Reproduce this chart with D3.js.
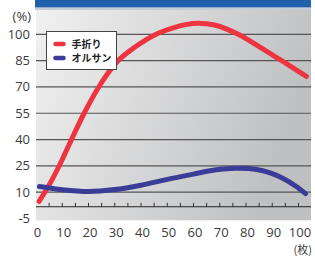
<!DOCTYPE html>
<html>
<head>
<meta charset="utf-8">
<script src="https://cdn.jsdelivr.net/npm/d3@7"></script>
<style>
  body { margin: 0; background: #fff; }
  svg { display: block; }
  .tickLabel { font-family: "Open Sans", "Noto Sans", sans-serif; font-size: 13px; fill: #3a3a3a; }
  .legendText { font-family: "Noto Sans CJK JP", sans-serif; font-size: 10px; font-weight: bold; fill: #222; }
</style>
</head>
<body>
<svg id="chart" width="315" height="256"></svg>
<script>
// values (x = 枚, y = %)
var yTicks = [100, 85, 70, 55, 40, 25, 10, -5];
var xTicks = [0, 10, 20, 30, 40, 50, 60, 70, 80, 90, 100];
var minorTicks = d3.range(5, 101, 5);
var seriesNames = ["手折り", "オルサン"];
var seriesColors = ["#ee3441", "#3b3b98"];

var oriX = [1.2, 4, 9, 13.5, 18, 23.5, 31, 38, 45, 52, 57, 62, 68, 77, 85, 93, 103];
var oriY = [4.8, 11.5, 25.5, 40, 54, 69, 84.5, 93, 99.5, 103.5, 105.5, 106.3, 105.3, 100, 93, 85.5, 76];

var orsX = [1.3, 10, 20, 30, 40, 50, 60, 68, 76, 81, 86, 90, 94, 99, 102.7];
var orsY = [13.2, 11.4, 10.4, 11.5, 14, 17.3, 20.3, 22.6, 23.7, 23.5, 22.4, 20.6, 18, 13.4, 9.2];

var svg = d3.select("#chart");

var x = d3.scaleLinear().domain([0, 100]).range([36, 298.5]);
var y = d3.scaleLinear().domain([10, 100]).range([192.2, 34.3]);

var plotLeft = 36, plotRight = 311;

// background gradient
var defs = svg.append("defs");
var grad = defs.append("linearGradient").attr("id", "bg")
    .attr("x1", "0").attr("y1", "0").attr("x2", "1").attr("y2", "0.3");
grad.append("stop").attr("offset", "0").attr("stop-color", "#f1f1f1");
grad.append("stop").attr("offset", "1").attr("stop-color", "#bfc0c2");

svg.append("rect")
    .attr("x", plotLeft).attr("y", 7)
    .attr("width", plotRight - plotLeft).attr("height", y(-6) - 7)
    .style("fill", "url(#bg)");

// top band
svg.append("rect")
    .attr("x", 35).attr("y", 7).attr("width", plotRight - 35).attr("height", 3)
    .style("fill", "#c3ccd8");
svg.append("rect")
    .attr("x", 35).attr("y", 0).attr("width", plotRight - 35).attr("height", 7.3)
    .style("fill", "#2161ab");

// grid lines
svg.selectAll(".grid")
    .data(yTicks.filter(function (d) { return d > 0; }))
    .enter().append("line")
    .attr("class", "grid")
    .attr("x1", plotLeft).attr("x2", plotRight)
    .attr("y1", function (d) { return y(d); })
    .attr("y2", function (d) { return y(d); })
    .style("stroke", "#555")
    .style("stroke-width", 1.2);

// baseline with small ticks
var baseY = y(1.7);
svg.append("line")
    .attr("x1", plotLeft).attr("x2", plotRight)
    .attr("y1", baseY).attr("y2", baseY)
    .style("stroke", "#222").style("stroke-width", 1.2);

svg.selectAll(".minor")
    .data(minorTicks)
    .enter().append("line")
    .attr("class", "minor")
    .attr("x1", function (d) { return x(d); })
    .attr("x2", function (d) { return x(d); })
    .attr("y1", baseY - 4).attr("y2", baseY)
    .style("stroke", "#333").style("stroke-width", 1);

// y labels
svg.selectAll(".yLabel")
    .data(yTicks)
    .enter().append("text")
    .attr("class", "tickLabel")
    .attr("x", 30)
    .attr("y", function (d) { return y(d) + 4.5; })
    .attr("text-anchor", "end")
    .text(function (d) { return d; });

svg.append("text")
    .attr("class", "tickLabel")
    .attr("x", 31).attr("y", 21)
    .attr("text-anchor", "end")
    .text("(%)");

// x labels
svg.selectAll(".xLabel")
    .data(xTicks)
    .enter().append("text")
    .attr("class", "tickLabel")
    .attr("x", function (d) { return x(d) + 1.5; })
    .attr("y", 237)
    .attr("text-anchor", "middle")
    .text(function (d) { return d; });

svg.append("text")
    .attr("class", "tickLabel")
    .style("font-family", "'Noto Sans CJK JP', sans-serif")
    .style("font-size", "11px")
    .attr("x", 312).attr("y", 254)
    .attr("text-anchor", "end")
    .text("(枚)");

// curves
var line = d3.line()
    .x(function (d) { return x(d[0]); })
    .y(function (d) { return y(d[1]); })
    .curve(d3.curveMonotoneX);

var series = [d3.zip(oriX, oriY), d3.zip(orsX, orsY)];

svg.selectAll(".line-plot")
    .data(series)
    .enter().append("path")
    .attr("class", "line-plot")
    .attr("d", line)
    .style("fill", "none")
    .style("stroke", function (d, i) { return seriesColors[i]; })
    .style("stroke-width", 5)
    .style("stroke-linecap", "round");

// legend
var legend = svg.append("g").attr("transform", "translate(46.5,31.5)");
legend.append("rect")
    .attr("width", 70).attr("height", 38)
    .style("fill", "#fff")
    .style("stroke", "#444")
    .style("stroke-width", 1);

var legendItems = legend.selectAll(".legendItem")
    .data(seriesNames)
    .enter().append("g")
    .attr("transform", function (d, i) { return "translate(0," + (12.5 + i * 14) + ")"; });

legendItems.append("line")
    .attr("x1", 9).attr("x2", 17)
    .style("stroke", function (d, i) { return seriesColors[i]; })
    .style("stroke-width", 4.5)
    .style("stroke-linecap", "round");

legendItems.append("text")
    .attr("class", "legendText")
    .attr("x", 25).attr("y", 3.5)
    .text(function (d) { return d; });
</script>
</body>
</html>
